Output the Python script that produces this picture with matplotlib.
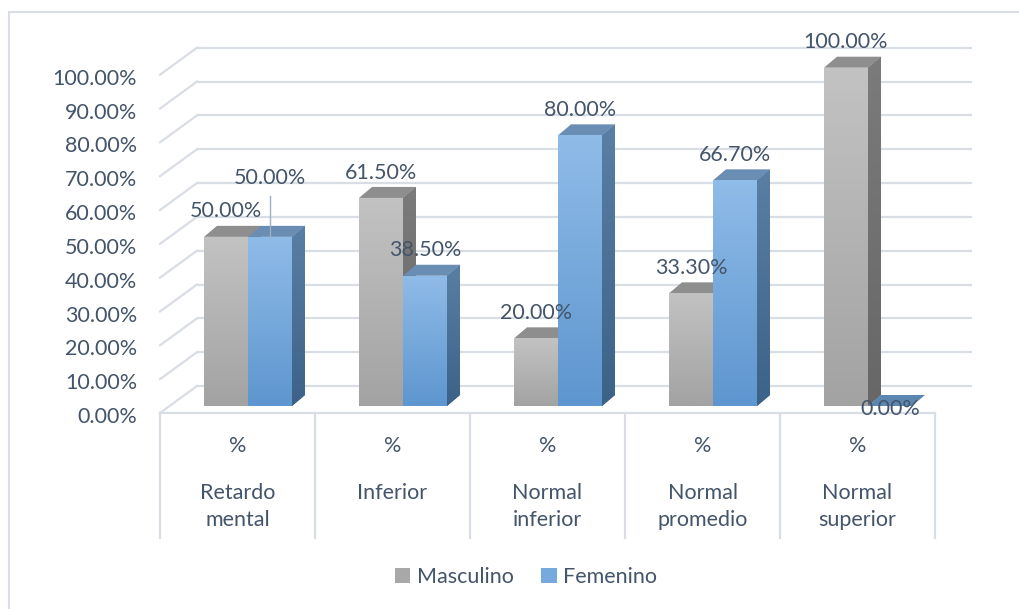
import numpy as np
import matplotlib
matplotlib.use("Agg")
import matplotlib.pyplot as plt
from matplotlib.patches import Polygon, Rectangle, Patch

# ---------------- data ----------------
categories = ["Retardo\nmental", "Inferior", "Normal\ninferior", "Normal\npromedio", "Normal\nsuperior"]
masculino = [50.0, 61.5, 20.0, 33.3, 100.0]
femenino = [50.0, 38.5, 80.0, 66.7, 0.0]
series_names = ["Masculino", "Femenino"]
y_ticks = [0, 10, 20, 30, 40, 50, 60, 70, 80, 90, 100]

# ---------------- layout (pixel geometry) ----------------
W, H = 1019, 609
PX_X = 155.0      # px per category
PX_Y = 3.383      # px per percent
X0_PX = 248.0     # px of category 0 centre (bars' front plane)
Y0_PX = 406.0     # px of 0 % on bars' front plane


def X(px):
    return (px - X0_PX) / PX_X


def Y(py):
    return (Y0_PX - py) / PX_Y


fig = plt.figure(figsize=(W / 100, H / 100), dpi=100)
ax = fig.add_axes([0, 0, 1, 1])
ax.set_xlim(X(0), X(W))
ax.set_ylim(Y(H), Y(0))
ax.axis("off")

FONT = "Lato"
TXT = "#44546a"
GRID = "#d9dde4"
FS = 15.5

n = len(categories)
bw = 44 / PX_X                   # bar width
ddx, ddy = 13 / PX_X, 11 / PX_Y  # bar depth
fy = Y(413)                      # front floor edge
by = Y(386)                      # back wall base
left_front = X(160)
right_front = left_front + n
left_back = X(197)

# back wall gridlines & left wall diagonals
for g in y_ticks:
    ax.plot([left_back, left_back + n], [by + g, by + g], color=GRID, lw=1.6, zorder=1,
            solid_capstyle="butt")
    ax.plot([left_front, left_back], [fy + g, by + g], color=GRID, lw=1.6, zorder=1)
# floor front edge and category separators
ax.plot([left_front, right_front], [fy, fy], color=GRID, lw=1.6, zorder=1)
for k in range(n + 1):
    ax.plot([left_front + k, left_front + k], [fy, Y(538)], color=GRID, lw=1.6, zorder=1)

# y tick labels
for g in y_ticks:
    ax.text(X(137), fy + g - 4 / PX_Y, f"{g:.2f}%", ha="right", va="center",
            fontsize=FS, color=TXT, family=FONT)

# category labels
line_py = [493, 520]
for i, c in enumerate(categories):
    cx = left_front + i + 0.5
    ax.text(cx, Y(446), "%", ha="center", va="center", fontsize=FS, color=TXT, family=FONT)
    for j, line in enumerate(c.split("\n")):
        ax.text(cx, Y(line_py[j]), line, ha="center", va="center", fontsize=FS, color=TXT,
                family=FONT)

styles = [
    dict(top_c="#c2c2c2", bot_c="#a3a3a3", side_t="#7b7b7b", side_b="#676767", lid="#8e8e8e"),
    dict(top_c="#8fbbe8", bot_c="#5e96cf", side_t="#5a7fa5", side_b="#3d6287", lid="#6a8db3"),
]


def grad_fill(poly, c_top, c_bot, extent, z):
    cmap = matplotlib.colors.LinearSegmentedColormap.from_list("g", [c_bot, c_top])
    img = ax.imshow(np.linspace(0, 1, 64).reshape(-1, 1), cmap=cmap, origin="lower",
                    extent=extent, aspect="auto", zorder=z, interpolation="bilinear")
    img.set_clip_path(poly)


for i in range(n):
    for s, vals in enumerate([masculino, femenino]):
        v = vals[i]
        st = styles[s]
        x0 = i - bw + s * bw
        x1 = x0 + bw
        z = 3 + s * 3
        # side face
        side = Polygon([(x1, 0), (x1, v), (x1 + ddx, v + ddy), (x1 + ddx, ddy)],
                       closed=True, facecolor=st["side_b"], edgecolor="none", zorder=z)
        ax.add_patch(side)
        if v > 0:
            grad_fill(side, st["side_t"], st["side_b"], (x1, x1 + ddx, 0, v + ddy), z + 0.1)
        # top face
        top = Polygon([(x0, v), (x1, v), (x1 + ddx, v + ddy), (x0 + ddx, v + ddy)],
                      closed=True, facecolor=st["lid"] if v > 0 else "#5b86b0",
                      edgecolor="none", zorder=z + 1)
        ax.add_patch(top)
        # front face
        if v > 0:
            bars = ax.bar([x0], [v], width=bw, align="edge", color=st["bot_c"],
                          edgecolor="none", zorder=z + 2)
            grad_fill(bars[0], st["top_c"], st["bot_c"], (x0, x1, 0, v), z + 2.1)

# value labels
for i in range(n):
    for s, vals in enumerate([masculino, femenino]):
        v = vals[i]
        cx = i - bw / 2 + s * bw
        ly = v + 7.5
        if s == 1 and i == 0:
            ly = Y(178)
            ax.plot([cx, cx], [Y(196), v], color="#9db0c4", lw=1.0, zorder=10)
        if v == 0:
            ly = Y(409)
        ax.text(cx, ly, f"{v:.2f}%", ha="center", va="center", fontsize=FS, color=TXT,
                family=FONT, zorder=12)

ax.set_xlim(X(0), X(W))
ax.set_ylim(Y(H), Y(0))

# chart border (only top/left visible)
fig.add_artist(Rectangle((9 / W, -0.1), 1.2, (1 - 12 / H) + 0.1, transform=fig.transFigure,
                         fill=False, edgecolor=GRID, lw=1.5))

# legend
handles = [Patch(facecolor="#a8a8a8", edgecolor="none"), Patch(facecolor="#76aadf", edgecolor="none")]
fig.legend(handles, series_names, loc="center", bbox_to_anchor=(526 / W, 1 - 577 / H), ncol=2,
           frameon=False, prop={"family": FONT, "size": FS}, labelcolor=TXT,
           handlelength=0.7, handleheight=0.7, handletextpad=0.3, columnspacing=1.3)

fig.savefig("out.png", dpi=100)
